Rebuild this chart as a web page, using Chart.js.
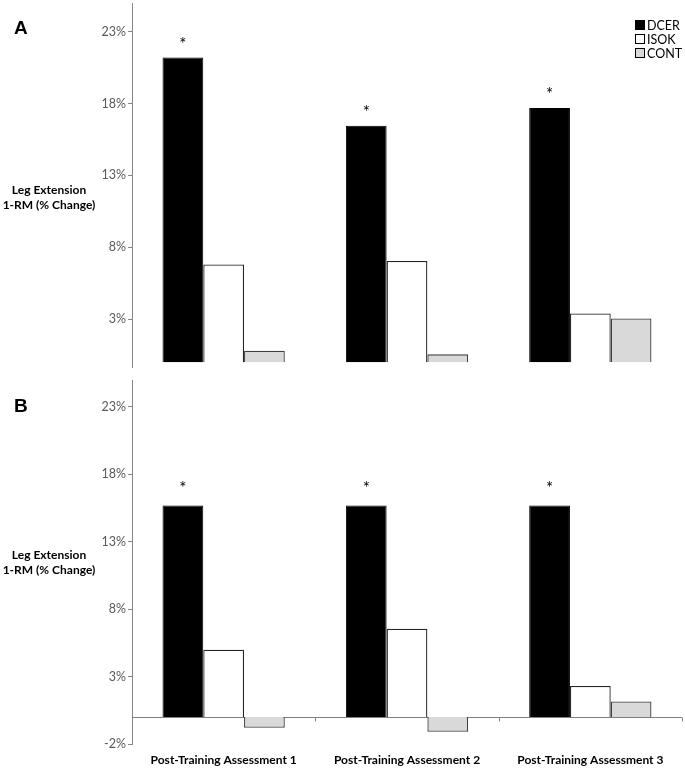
<!DOCTYPE html>
<html>
<head>
<meta charset="utf-8">
<script src="https://cdn.jsdelivr.net/npm/chart.js@4.4.1/dist/chart.umd.min.js"></script>
<style>
  html, body { margin: 0; padding: 0; background: #ffffff; }
  #wrap { position: relative; width: 685px; height: 769px; }
  canvas { position: absolute; left: 0; }
  #cA { top: 0; }
  #cB { top: 370px; }
</style>
</head>
<body>
<div id="wrap">
  <canvas id="cA" width="685" height="370"></canvas>
  <canvas id="cB" width="685" height="399"></canvas>
</div>
<script>
// ---- data ----
const categories = ['Post-Training Assessment 1', 'Post-Training Assessment 2', 'Post-Training Assessment 3'];
const seriesNames = ['DCER', 'ISOK', 'CONT'];
const panelLabels = ['A', 'B'];
const yTitleLines = ['Leg Extension', '1-RM (% Change)'];
const tickValues = [-2, 3, 8, 13, 18, 23];

// Panel A
const dcerA = [21.2, 16.45, 17.7];
const isokA = [6.8, 7.05, 3.4];
const contA = [0.8, 0.55, 3.05];
const significantA = [true, true, true];

// Panel B
const dcerB = [15.7, 15.7, 15.7];
const isokB = [5.0, 6.55, 2.3];
const contB = [-0.8, -1.1, 1.15];
const significantB = [true, true, true];

const FONT = 'Lato, "Open Sans", sans-serif';

function makeDatasets(d, i, c) {
  return [
    { label: seriesNames[0], data: d, backgroundColor: '#000000', borderColor: '#000000', borderWidth: 1 },
    { label: seriesNames[1], data: i, backgroundColor: '#ffffff', borderColor: '#262626', borderWidth: 1.3 },
    { label: seriesNames[2], data: c, backgroundColor: '#d9d9d9', borderColor: '#404040', borderWidth: 1.3 }
  ];
}

function overlayPlugin(opts) {
  return {
    id: 'overlay' + opts.letter,
    beforeDatasetsDraw(chart) {
      if (!opts.zeroLine) return;
      const ctx = chart.ctx, x = chart.scales.x, y = chart.scales.y, a = chart.chartArea;
      const y0 = Math.round(y.getPixelForValue(0)) + 0.5;
      ctx.save();
      ctx.strokeStyle = '#7f7f7f';
      ctx.lineWidth = 1;
      ctx.beginPath();
      ctx.moveTo(a.left, y0);
      ctx.lineTo(a.right, y0);
      for (let k = 0; k < categories.length; k++) {
        const bx = Math.round(x.getPixelForValue(k + 0.5)) + 0.5;
        ctx.moveTo(bx, y0);
        ctx.lineTo(bx, y0 + 4);
      }
      ctx.stroke();
      ctx.restore();
    },
    afterDatasetsDraw(chart) {
      const ctx = chart.ctx;
      ctx.save();
      // significance asterisks above DCER bars
      const meta = chart.getDatasetMeta(0);
      ctx.fillStyle = '#000000';
      ctx.font = '17px ' + FONT;
      ctx.textAlign = 'center';
      ctx.textBaseline = 'middle';
      meta.data.forEach((el, k) => {
        if (opts.significant[k]) ctx.fillText('*', el.x, el.y - opts.starOffset);
      });
      // panel letter
      ctx.font = 'bold 19px "Liberation Sans", Arial, sans-serif';
      ctx.textAlign = 'left';
      ctx.fillText(opts.letter, 14, opts.letterY);
      // horizontal y-axis title
      ctx.font = 'bold 12px ' + FONT;
      ctx.textAlign = 'center';
      yTitleLines.forEach((t, k) => ctx.fillText(t, 49, opts.titleY + k * 15));
      // legend
      if (opts.legend) {
        ctx.font = '12.5px ' + FONT;
        chart.data.datasets.forEach((ds, k) => {
          const yy = 25 + k * 14;
          ctx.fillStyle = ds.backgroundColor;
          ctx.fillRect(635, yy - 5, 10, 10);
          ctx.strokeStyle = '#000000';
          ctx.lineWidth = 1;
          ctx.strokeRect(635.5, yy - 4.5, 9, 9);
          ctx.fillStyle = '#000000';
          ctx.textAlign = 'left';
          ctx.fillText(ds.label, 647, yy + 1);
        });
      }
      ctx.restore();
    }
  };
}

function makeChart(id, d, i, c, cfg) {
  return new Chart(document.getElementById(id), {
    type: 'bar',
    data: { labels: categories, datasets: makeDatasets(d, i, c) },
    options: {
      responsive: false,
      animation: false,
      devicePixelRatio: 1,
      layout: { padding: cfg.padding },
      datasets: { bar: { categoryPercentage: 0.667, barPercentage: 1.0 } },
      plugins: { legend: { display: false }, tooltip: { enabled: false } },
      scales: {
        x: {
          display: cfg.showX,
          grid: { display: false, drawTicks: false },
          border: { display: false },
          ticks: { color: '#000000', font: { family: FONT, size: 12, weight: 'bold' }, padding: 9, maxRotation: 0 },
          afterFit(s) { s.height = cfg.xHeight; s.paddingLeft = 0; s.paddingRight = 0; }
        },
        y: {
          min: cfg.min,
          max: cfg.max,
          grid: { display: true, drawOnChartArea: false, drawTicks: true, tickLength: 4, color: '#868686' },
          border: { display: true, color: '#868686', width: 1 },
          ticks: {
            color: '#595959',
            font: { family: FONT, size: 12.5 },
            padding: 2,
            callback: (v) => v + '%'
          },
          afterBuildTicks(s) {
            s.ticks = tickValues.filter(v => v >= cfg.min && v <= cfg.max).map(v => ({ value: v }));
          },
          afterFit(s) { s.width = 132; s.paddingTop = 0; s.paddingBottom = 0; }
        }
      }
    },
    plugins: [overlayPlugin(cfg.overlay)]
  });
}

makeChart('cA', dcerA, isokA, contA, {
  min: -0.33, max: 25, showX: false, xHeight: 0,
  padding: { left: 0, right: 3, top: 3, bottom: 3 },
  overlay: { letter: panelLabels[0], letterY: 29, titleY: 190, starOffset: 13, significant: significantA, legend: true, zeroLine: false }
});

makeChart('cB', dcerB, isokB, contB, {
  min: -2, max: 25, showX: true, xHeight: 25,
  padding: { left: 0, right: 3, top: 10, bottom: 0 },
  overlay: { letter: panelLabels[1], letterY: 37, titleY: 185, starOffset: 17, significant: significantB, legend: false, zeroLine: true }
});
</script>
</body>
</html>
